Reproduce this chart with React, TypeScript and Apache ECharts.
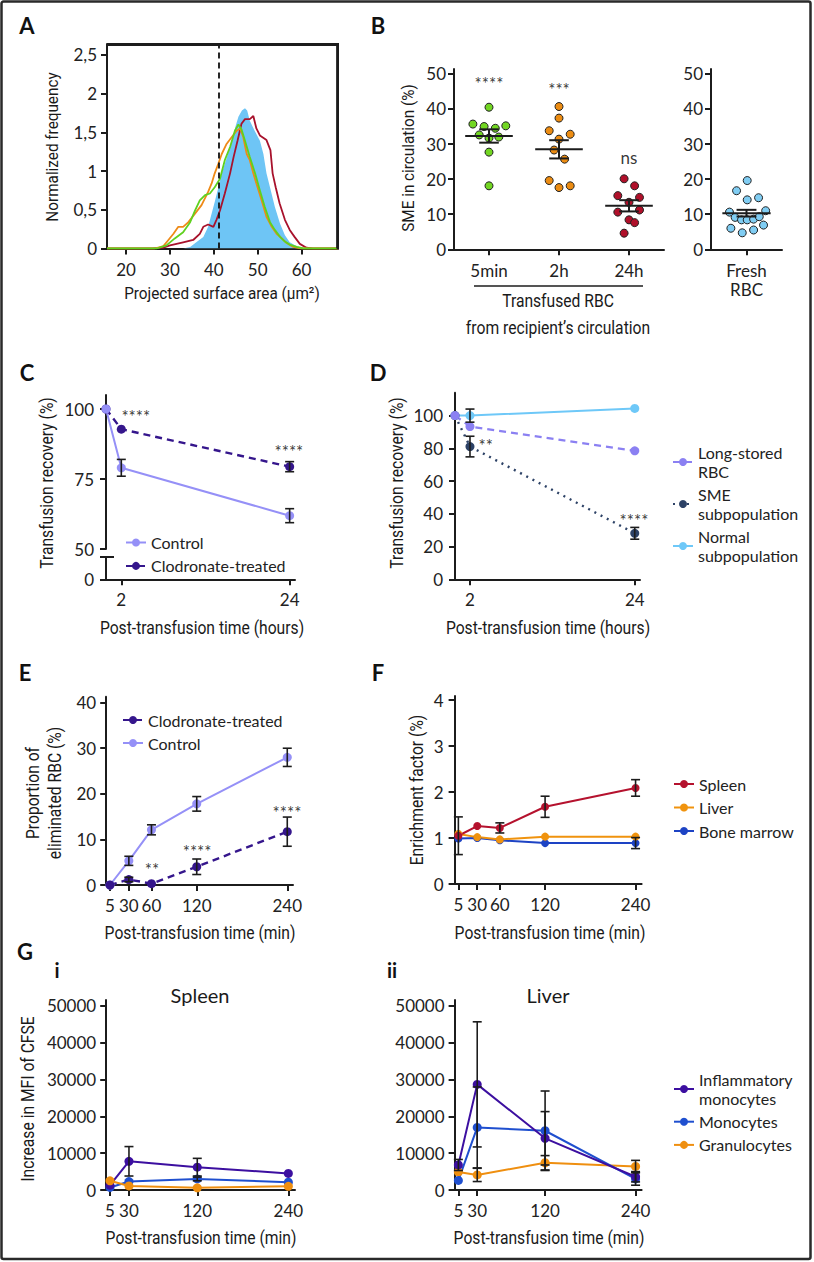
import React, { useEffect, useRef } from "react";
import * as echarts from "echarts";

const INK = "#1c1c1c";
const TICK_FONT = "Lato, 'Noto Sans', sans-serif";
const TITLE_FAMILY = "Roboto, 'Noto Sans', sans-serif";

// ---------- Panel A : histograms ----------
const A_X_MIN = 15.65;
const A_X_MAX = 68.3;
const A_Y_MAX = 2.64;
const A_X_TICKS = [20, 30, 40, 50, 60];
const A_Y_TICKS = [0, 0.5, 1, 1.5, 2, 2.5];
const A_THRESHOLD = 41.2;
const A_FRESH = [
  [15.65, 0], [33, 0], [34.6, 0.02], [36, 0.08], [37.6, 0.15], [38.7, 0.28], [40.2, 0.6], [41, 0.78],
  [41.8, 0.97], [43, 1.18], [44.1, 1.39], [44.9, 1.57], [45.6, 1.7], [46.4, 1.78], [47.1, 1.81],
  [47.6, 1.78], [48.2, 1.65], [49.3, 1.52], [50.5, 1.39], [51.3, 1.22], [52, 0.97], [52.8, 0.79],
  [53.9, 0.54], [55.1, 0.32], [56.2, 0.17], [57.3, 0.08], [58.9, 0.03], [60.5, 0], [68.3, 0],
];
const A_RED = [
  [15.65, 0], [26, 0], [28.5, 0.01], [30, 0.04], [33, 0.08], [35.3, 0.11], [36.8, 0.19], [37.6, 0.28],
  [38.7, 0.31], [39.9, 0.28], [40.6, 0.37], [41.4, 0.49], [42.5, 0.71], [43.7, 0.97], [44.5, 1.18],
  [45.4, 1.39], [46.3, 1.61], [47.1, 1.67], [48.2, 1.67], [49, 1.71], [49.7, 1.55], [50.5, 1.46],
  [52, 1.4], [52.9, 1.27], [53.4, 0.97], [54.1, 0.79], [55, 0.58], [56.2, 0.37], [57.3, 0.24],
  [58.4, 0.15], [59.6, 0.06], [61.1, 0.01], [62.6, 0], [68.3, 0],
];
const A_ORANGE = [
  [15.65, 0], [26.5, 0], [28.5, 0.03], [29.5, 0.1], [30.8, 0.19], [31.9, 0.28], [33, 0.28], [34.2, 0.34],
  [35.7, 0.45], [37.2, 0.56], [38.7, 0.73], [39.5, 0.84], [40.2, 0.97], [41, 1.09], [41.8, 1.22],
  [42.9, 1.35], [44.1, 1.44], [45.2, 1.52], [46, 1.55], [46.7, 1.44], [47.5, 1.22], [48.2, 1.14],
  [49, 0.97], [49.7, 0.84], [50.9, 0.62], [52, 0.41], [53.2, 0.28], [54.3, 0.19], [55.5, 0.13],
  [56.6, 0.07], [58.1, 0.02], [60, 0], [68.3, 0],
];
const A_GREEN = [
  [15.65, 0], [27, 0], [29.2, 0.04], [31.1, 0.13], [33, 0.21], [34.6, 0.34], [35.7, 0.49], [36.8, 0.62],
  [38, 0.69], [39.1, 0.71], [40.2, 0.79], [41.4, 0.9], [42.5, 1.14], [43.7, 1.31], [44.8, 1.52],
  [45.6, 1.6], [46.3, 1.54], [47.1, 1.39], [48.2, 1.18], [49.4, 0.97], [50.5, 0.75], [51.6, 0.54],
  [52.8, 0.34], [53.9, 0.24], [55.1, 0.15], [56.2, 0.09], [57.3, 0.05], [58.9, 0.02], [60.5, 0], [68.3, 0],
];

// ---------- Panel B : scatter ----------
const B_CATS = ["5min", "2h", "24h"];
const B_FRESH_CAT = ["Fresh\nRBC"];
const B_Y_TICKS = [0, 10, 20, 30, 40, 50];
const B_5MIN = [40.5, 35.7, 35.0, 34.5, 35.2, 32.6, 31.7, 32.0, 27.7, 18.1];
const B_5MIN_JIT = [0, -0.23, -0.07, 0.09, 0.24, -0.14, 0, 0.14, 0, 0];
const B_2H = [40.7, 37.4, 33.8, 32.8, 31.4, 28.3, 25.7, 19.6, 17.6, 18.1];
const B_2H_JIT = [0, 0, -0.14, 0.16, 0, -0.07, 0.08, -0.14, 0, 0.16];
const B_24H = [20.1, 18.1, 15.3, 14.8, 13.4, 10.6, 11.2, 8.4, 7.6, 4.6];
const B_24H_JIT = [-0.07, 0.08, -0.16, 0.15, 0, -0.16, 0.15, 0, 0.08, -0.07];
const B_FRESH = [19.6, 16.7, 14.7, 14.1, 10.6, 11.0, 9.1, 8.4, 8.4, 8.6, 9.3, 6.9, 6.0, 5.5, 4.7];
const B_FRESH_JIT = [0.01, -0.14, 0.17, 0.01, -0.24, 0.27, -0.16, -0.07, 0.01, 0.1, 0.18, 0.24, -0.22, 0.1, -0.06];
const B_MEANS = [32.3, 28.5, 12.4];
const B_SEMS = [1.9, 2.6, 1.6];
const B_FRESH_MEAN = [10.3];
const B_FRESH_SEM = [0.95];
const B_SIG_TEXT = ["****", "***", "ns"];
const B_SIG_Y = [47.2, 45.5, 26.3];

// ---------- Panel C ----------
const C_X = [0, 2, 24];
const C_X_TICKS = [2, 24];
const C_Y_TICKS = [50, 75, 100];
const C_CONTROL = [100, 79, 61.9];
const C_CONTROL_ERR = [0, 3, 2.5];
const C_CLOD = [100, 92.8, 79.4];
const C_CLOD_ERR = [0, 0, 1.8];
const C_SIG_X = [3.9, 23.9];
const C_SIG_Y = [97.3, 84.8];
const C_SIG_TEXT = ["****", "****"];

// ---------- Panel D ----------
const D_X = [0, 2, 24];
const D_X_TICKS = [2, 24];
const D_Y_TICKS = [0, 20, 40, 60, 80, 100];
const D_LONG = [100, 93.3, 78.5];
const D_SME = [100, 81.1, 28.1];
const D_SME_ERR = [0, 6.3, 3.6];
const D_NORMAL = [100, 100, 104.4];
const D_NORMAL_ERR = [0, 4, 0];
const D_SIG_X = [4.1, 23.9];
const D_SIG_Y = [81.8, 36];
const D_SIG_TEXT = ["**", "****"];

// ---------- Panel E ----------
const E_X = [5, 30, 60, 120, 240];
const E_Y_TICKS = [0, 10, 20, 30, 40];
const E_CONTROL = [0, 5.3, 12.1, 17.8, 28.0];
const E_CONTROL_ERR = [0, 1, 1.1, 1.6, 2];
const E_CLOD = [0, 1.2, 0.3, 4.0, 11.7];
const E_CLOD_ERR = [0, 0.5, 0, 1.7, 3.2];
const E_SIG_X = [60.7, 120.5, 239.6];
const E_SIG_Y = [3.3, 7.3, 15.8];
const E_SIG_TEXT = ["**", "****", "****"];

// ---------- Panel F ----------
const F_X = [5, 30, 60, 120, 240];
const F_Y_TICKS = [0, 1, 2, 3, 4];
const F_SPLEEN = [1.05, 1.26, 1.22, 1.68, 2.09];
const F_SPLEEN_ERR = [0.41, 0, 0.11, 0.23, 0.18];
const F_LIVER = [1.09, 1.02, 0.97, 1.03, 1.03];
const F_BM = [0.99, 1.0, 0.95, 0.89, 0.89];
const F_BM_ERR = [0, 0, 0, 0, 0.12];

// ---------- Panel G ----------
const G_X = [5, 30, 120, 240];
const G_Y_TICKS = [0, 10000, 20000, 30000, 40000, 50000];
const GI_INFL = [1300, 7800, 6200, 4500];
const GI_INFL_ERR = [0, 4000, 2400, 0];
const GI_MONO = [700, 2300, 3000, 2100];
const GI_MONO_ERR = [0, 0, 500, 0];
const GI_GRAN = [2500, 1100, 600, 1000];
const GII_INFL = [6800, 28700, 14050, 3600];
const GII_INFL_ERR = [1500, 17000, 7250, 1400];
const GII_MONO = [2600, 17000, 16100, 3000];
const GII_MONO_ERR = [0, 11000, 10800, 1700];
const GII_GRAN = [4900, 4100, 7400, 6400];
const GII_GRAN_ERR = [0, 1800, 1950, 1650];

const C_LIGHT = "#9590f7";
const C_DARK = "#35168c";
const LONG_COL = "#8b80f2";
const SME_COL = "#2d4266";
const NORMAL_COL = "#6ec8f8";
const SPLEEN_COL = "#b5122e";
const LIVER_COL = "#f0930e";
const BM_COL = "#1d43c4";
const INFL_COL = "#3c0fa0";
const MONO_COL = "#1f4fcf";
const GRAN_COL = "#ef8f10";

const LEGEND_LABELS: Record<string, string> = {
  "Long-stored RBC": "Long-stored\nRBC",
  "SME subpopulation": "SME\nsubpopulation",
  "Normal subpopulation": "Normal\nsubpopulation",
  "Inflammatory monocytes": "Inflammatory\nmonocytes",
};

function vAxis(gridIndex: number, min: number, max: number, ticks: number[], o: any = {}) {
  return {
    type: "value",
    gridIndex,
    min,
    max,
    axisLine: { show: true, onZero: false, lineStyle: { color: INK, width: 2 } },
    axisTick: { show: true, length: 6, customValues: ticks, lineStyle: { color: INK, width: 2 } },
    axisLabel: {
      show: true,
      customValues: o.labels ?? ticks,
      formatter: o.fmt,
      margin: o.margin ?? 10,
      color: "#222",
      fontSize: 17,
      fontFamily: TICK_FONT,
    },
    splitLine: { show: false },
  };
}

function catAxis(gridIndex: number, data: string[]) {
  return {
    type: "category",
    gridIndex,
    data,
    boundaryGap: true,
    axisLine: { show: true, onZero: false, lineStyle: { color: INK, width: 2 } },
    axisTick: { show: true, alignWithLabel: true, length: 6, lineStyle: { color: INK, width: 2 } },
    axisLabel: { margin: 12, color: "#222", fontSize: 17, fontFamily: TICK_FONT, lineHeight: 19, interval: 0 },
    splitLine: { show: false },
  };
}

function lineS(name: string | undefined, xi: number, yi: number, xs: number[], ys: number[], color: string, o: any = {}) {
  return {
    type: "line",
    name,
    xAxisIndex: xi,
    yAxisIndex: yi,
    data: xs.map((x, i) => [x, ys[i]]),
    symbol: "circle",
    symbolSize: o.size ?? 9,
    showSymbol: true,
    lineStyle: { color, width: o.width ?? 2, type: o.dash ?? "solid" },
    itemStyle: { color },
    z: 3,
    silent: true,
  };
}

function errS(xi: number, yi: number, xs: number[], ys: number[], es: number[], cap = 4.5) {
  const data: number[][] = [];
  xs.forEach((x, i) => {
    if (es[i] > 0) data.push([x, ys[i] - es[i], ys[i] + es[i]]);
  });
  return {
    type: "custom",
    xAxisIndex: xi,
    yAxisIndex: yi,
    silent: true,
    z: 4,
    encode: { x: 0, y: [1, 2] },
    data,
    renderItem: (_p: any, api: any) => {
      const x = api.value(0);
      const lo = api.coord([x, api.value(1)]);
      const hi = api.coord([x, api.value(2)]);
      const st = { stroke: INK, lineWidth: 1.6 };
      return {
        type: "group",
        children: [
          { type: "line", shape: { x1: lo[0], y1: lo[1], x2: hi[0], y2: hi[1] }, style: st },
          { type: "line", shape: { x1: lo[0] - cap, y1: lo[1], x2: lo[0] + cap, y2: lo[1] }, style: st },
          { type: "line", shape: { x1: hi[0] - cap, y1: hi[1], x2: hi[0] + cap, y2: hi[1] }, style: st },
        ],
      };
    },
  };
}

// top + right edges of panel A's plot box, placed through the axes' own scales
function frameS(xi: number, yi: number) {
  return {
    type: "custom",
    xAxisIndex: xi,
    yAxisIndex: yi,
    silent: true,
    clip: false,
    z: 10,
    encode: { x: 0, y: 1 },
    data: [[A_X_MAX, A_Y_MAX]],
    renderItem: (_p: any, api: any) => {
      const tl = api.coord([A_X_MIN, A_Y_MAX]);
      const tr = api.coord([A_X_MAX, A_Y_MAX]);
      const br = api.coord([A_X_MAX, 0]);
      const st = { stroke: INK, lineWidth: 2 };
      return {
        type: "group",
        children: [
          { type: "line", shape: { x1: tl[0], y1: tl[1], x2: tr[0] + 1, y2: tr[1] }, style: st },
          { type: "line", shape: { x1: tr[0], y1: tr[1], x2: br[0], y2: br[1] }, style: st },
        ],
      };
    },
  };
}

// same edges again, drawn as an error-bar-like vertical line just inside the clip area
function edgeS(xi: number, yi: number) {
  return {
    type: "custom",
    xAxisIndex: xi,
    yAxisIndex: yi,
    silent: true,
    z: 10,
    encode: { x: 0, y: [1, 2] },
    data: [[A_X_MAX - 0.2, 0, A_Y_MAX]],
    renderItem: (_p: any, api: any) => {
      const x = api.value(0);
      const lo = api.coord([x, api.value(1)]);
      const hi = api.coord([x, api.value(2)]);
      const st = { stroke: INK, lineWidth: 2 };
      return {
        type: "group",
        children: [
          { type: "line", shape: { x1: lo[0], y1: lo[1], x2: hi[0], y2: hi[1] }, style: st },
        ],
      };
    },
  };
}

function meanS(xi: number, yi: number, means: number[], sems: number[]) {
  return {
    type: "custom",
    xAxisIndex: xi,
    yAxisIndex: yi,
    silent: true,
    z: 5,
    encode: { x: 0, y: 1 },
    data: means.map((m, i) => [i, m, sems[i]]),
    renderItem: (_p: any, api: any) => {
      const x = api.value(0);
      const m = api.value(1);
      const s = api.value(2);
      const a = api.coord([x - 0.34, m]);
      const b = api.coord([x + 0.34, m]);
      const t = api.coord([x, m + s]);
      const d = api.coord([x, m - s]);
      const cap = api.size([0.14, 0])[0];
      const st = { stroke: INK, lineWidth: 2 };
      return {
        type: "group",
        children: [
          { type: "line", shape: { x1: a[0], y1: a[1], x2: b[0], y2: b[1] }, style: st },
          { type: "line", shape: { x1: t[0], y1: t[1], x2: d[0], y2: d[1] }, style: st },
          { type: "line", shape: { x1: t[0] - cap, y1: t[1], x2: t[0] + cap, y2: t[1] }, style: st },
          { type: "line", shape: { x1: d[0] - cap, y1: d[1], x2: d[0] + cap, y2: d[1] }, style: st },
        ],
      };
    },
  };
}

function dotS(xi: number, yi: number, center: number, vals: number[], jit: number[], color: string) {
  return {
    type: "scatter",
    xAxisIndex: xi,
    yAxisIndex: yi,
    silent: true,
    z: 3,
    symbolSize: 8,
    data: vals.map((v, i) => [center + jit[i], v]),
    itemStyle: { color, borderColor: "#222", borderWidth: 1, opacity: 1 },
  };
}

function sigS(xi: number, yi: number, xs: number[], ys: number[], texts: string[], size = 17) {
  return {
    type: "scatter",
    xAxisIndex: xi,
    yAxisIndex: yi,
    silent: true,
    z: 6,
    symbolSize: 1,
    itemStyle: { color: "rgba(0,0,0,0)" },
    data: xs.map((x, i) => ({ value: [x, ys[i]], label: { formatter: texts[i] } })),
    label: { show: true, position: "inside", color: "#000", fontSize: size, fontFamily: TICK_FONT },
  };
}

function title(text: string, x: number, y: number, o: any = {}) {
  return {
    type: "text",
    x,
    y,
    rotation: o.rot ? Math.PI / 2 : 0,
    scaleX: o.sx ?? 0.87,
    z: 50,
    style: {
      text,
      fill: "#1a1a1a",
      font: `${o.size ?? 18}px ${o.family ?? TITLE_FAMILY}`,
      textAlign: "center",
      textVerticalAlign: "middle",
      lineHeight: o.lh ?? 22,
    },
  };
}

function letter(text: string, x: number, y: number, size = 22) {
  return {
    type: "text",
    x,
    y,
    z: 50,
    style: { text, fill: "#111", font: `bold ${size}px Lato, 'Noto Sans', sans-serif`, textAlign: "center", textVerticalAlign: "middle" },
  };
}

function legendCfg(data: string[], left: number, top: number, gap: number) {
  return {
    data,
    left,
    top,
    orient: "vertical",
    itemWidth: 20,
    itemHeight: 10,
    itemGap: gap,
    selectedMode: false,
    formatter: (n: string) => LEGEND_LABELS[n] ?? n,
    textStyle: { fontSize: 16, fontFamily: TICK_FONT, color: "#222", lineHeight: 19 },
  };
}

const commaFmt = (v: number) => String(v).replace(".", ",");
const plainFmt = (v: number) => String(v);

function buildOption() {
  const gridBase = { outerBoundsMode: "none", containLabel: false };
  const grid = [
    { ...gridBase, left: 107, top: 44, width: 231, height: 204.5 },
    { ...gridBase, left: 454, top: 69, width: 210, height: 180.3 },
    { ...gridBase, left: 711, top: 69, width: 71, height: 180.3 },
    { ...gridBase, left: 106, top: 395, width: 189, height: 154 },
    { ...gridBase, left: 106, top: 557, width: 189, height: 22.3 },
    { ...gridBase, left: 455, top: 392.7, width: 185, height: 186.6 },
    { ...gridBase, left: 106.2, top: 696.7, width: 186.8, height: 188.3 },
    { ...gridBase, left: 454.6, top: 696, width: 187, height: 188 },
    { ...gridBase, left: 106.2, top: 1000, width: 188.8, height: 190 },
    { ...gridBase, left: 454.6, top: 1000, width: 187, height: 190 },
  ];

  const xAxis = [
    vAxis(0, A_X_MIN, A_X_MAX, A_X_TICKS, { margin: 12 }),
    catAxis(1, B_CATS),
    { type: "value", gridIndex: 1, min: -0.5, max: 2.5, show: false },
    catAxis(2, B_FRESH_CAT),
    { type: "value", gridIndex: 2, min: -0.5, max: 0.5, show: false },
    { type: "value", gridIndex: 3, min: 0, max: 24.7, show: false },
    vAxis(4, 0, 24.7, C_X_TICKS, { margin: 12 }),
    vAxis(5, 0, 24.7, D_X_TICKS, { margin: 12 }),
    vAxis(6, 0, 247.6, E_X, { margin: 12 }),
    vAxis(7, 0, 248, F_X, { margin: 12 }),
    vAxis(8, 0, 248.8, G_X, { margin: 12 }),
    vAxis(9, 0, 248, G_X, { margin: 12 }),
  ];

  const yAxis = [
    vAxis(0, 0, A_Y_MAX, A_Y_TICKS, { fmt: commaFmt }),
    vAxis(1, 0, 51.4, B_Y_TICKS, { margin: 8 }),
    vAxis(2, 0, 51.4, B_Y_TICKS, { margin: 8 }),
    vAxis(3, 50, 105, C_Y_TICKS, { margin: 12 }),
    vAxis(4, 0, 8, [0, 8], { labels: [0], margin: 12 }),
    vAxis(5, 0, 114, D_Y_TICKS, { margin: 12 }),
    vAxis(6, 0, 41.3, E_Y_TICKS),
    vAxis(7, 0, 4.09, F_Y_TICKS, { margin: 11 }),
    vAxis(8, 0, 51630, G_Y_TICKS, { fmt: plainFmt }),
    vAxis(9, 0, 51630, G_Y_TICKS, { fmt: plainFmt }),
  ];

  const series: any[] = [
    // A
    {
      type: "line", xAxisIndex: 0, yAxisIndex: 0, data: A_FRESH, symbol: "none", silent: true, z: 1,
      lineStyle: { width: 0 }, areaStyle: { color: "#6ec5f5", opacity: 1 },
    },
    { type: "line", xAxisIndex: 0, yAxisIndex: 0, data: A_RED, symbol: "none", silent: true, z: 2, lineStyle: { color: "#a8122c", width: 1.8 } },
    { type: "line", xAxisIndex: 0, yAxisIndex: 0, data: A_ORANGE, symbol: "none", silent: true, z: 2, lineStyle: { color: "#ee8a17", width: 1.8 } },
    {
      type: "line", xAxisIndex: 0, yAxisIndex: 0, data: A_GREEN, symbol: "none", silent: true, z: 2,
      lineStyle: { color: "#5fd11f", width: 1.8 },
      markLine: {
        silent: true, symbol: ["none", "none"], label: { show: false },
        lineStyle: { color: "#111", width: 1.8, type: [6, 4] },
        data: [{ xAxis: A_THRESHOLD }],
      },
    },
    frameS(0, 0),
    edgeS(0, 0),
    // B
    dotS(2, 1, 0, B_5MIN, B_5MIN_JIT, "#72d622"),
    dotS(2, 1, 1, B_2H, B_2H_JIT, "#ec8c12"),
    dotS(2, 1, 2, B_24H, B_24H_JIT, "#b0102a"),
    dotS(4, 2, 0, B_FRESH, B_FRESH_JIT, "#80cdf3"),
    meanS(2, 1, B_MEANS, B_SEMS),
    meanS(4, 2, B_FRESH_MEAN, B_FRESH_SEM),
    sigS(2, 1, [0, 1, 2], B_SIG_Y, B_SIG_TEXT),
    // C
    lineS("Clodronate-treated", 5, 3, C_X, C_CLOD, C_DARK, { dash: [7, 5], width: 2.4 }),
    lineS("Control", 5, 3, C_X, C_CONTROL, C_LIGHT),
    errS(5, 3, C_X, C_CONTROL, C_CONTROL_ERR),
    errS(5, 3, C_X, C_CLOD, C_CLOD_ERR),
    sigS(5, 3, C_SIG_X, C_SIG_Y, C_SIG_TEXT),
    // D
    lineS("Normal subpopulation", 7, 5, D_X, D_NORMAL, NORMAL_COL),
    lineS("SME subpopulation", 7, 5, D_X, D_SME, SME_COL, { dash: [2, 5], width: 2.4 }),
    lineS("Long-stored RBC", 7, 5, D_X, D_LONG, LONG_COL, { dash: [7, 5], width: 2.2 }),
    errS(7, 5, D_X, D_SME, D_SME_ERR),
    errS(7, 5, D_X, D_NORMAL, D_NORMAL_ERR),
    sigS(7, 5, D_SIG_X, D_SIG_Y, D_SIG_TEXT),
    // E
    lineS("Control", 8, 6, E_X, E_CONTROL, C_LIGHT),
    lineS("Clodronate-treated", 8, 6, E_X, E_CLOD, C_DARK, { dash: [7, 5], width: 2.4 }),
    errS(8, 6, E_X, E_CONTROL, E_CONTROL_ERR),
    errS(8, 6, E_X, E_CLOD, E_CLOD_ERR),
    sigS(8, 6, E_SIG_X, E_SIG_Y, E_SIG_TEXT),
    // F
    lineS("Bone marrow", 9, 7, F_X, F_BM, BM_COL, { size: 8 }),
    lineS("Liver", 9, 7, F_X, F_LIVER, LIVER_COL, { size: 8 }),
    lineS("Spleen", 9, 7, F_X, F_SPLEEN, SPLEEN_COL, { size: 8 }),
    errS(9, 7, F_X, F_SPLEEN, F_SPLEEN_ERR),
    errS(9, 7, F_X, F_BM, F_BM_ERR),
    // G i
    lineS("Monocytes", 10, 8, G_X, GI_MONO, MONO_COL),
    lineS("Inflammatory monocytes", 10, 8, G_X, GI_INFL, INFL_COL),
    lineS("Granulocytes", 10, 8, G_X, GI_GRAN, GRAN_COL),
    errS(10, 8, G_X, GI_INFL, GI_INFL_ERR),
    errS(10, 8, G_X, GI_MONO, GI_MONO_ERR),
    // G ii
    lineS("Granulocytes", 11, 9, G_X, GII_GRAN, GRAN_COL),
    lineS("Monocytes", 11, 9, G_X, GII_MONO, MONO_COL),
    lineS("Inflammatory monocytes", 11, 9, G_X, GII_INFL, INFL_COL),
    errS(11, 9, G_X, GII_INFL, GII_INFL_ERR),
    errS(11, 9, G_X, GII_MONO, GII_MONO_ERR),
    errS(11, 9, G_X, GII_GRAN, GII_GRAN_ERR),
  ];

  const legend = [
    legendCfg(["Control", "Clodronate-treated"], 120, 528, 4.4),
    legendCfg(["Long-stored RBC", "SME subpopulation", "Normal subpopulation"], 667, 438, 4),
    legendCfg(["Clodronate-treated", "Control"], 117, 705.5, 4),
    legendCfg(["Spleen", "Liver", "Bone marrow"], 668, 769.5, 4.5),
    legendCfg(["Inflammatory monocytes", "Monocytes", "Granulocytes"], 668, 1065, 4.2),
  ];

  const graphic = [
    { type: "rect", z: 60, shape: { x: 1.5, y: 1.5, width: 809, height: 1257.5, r: 2 }, style: { fill: "none", stroke: "#2a2a2a", lineWidth: 2.5 } },
    { type: "line", z: 100, shape: { x1: 107, y1: 45, x2: 339, y2: 45 }, style: { stroke: INK, lineWidth: 2 } },
    { type: "line", z: 100, shape: { x1: 338, y1: 44, x2: 338, y2: 249 }, style: { stroke: INK, lineWidth: 2 } },
    letter("A", 27, 25), letter("B", 378, 25), letter("C", 27, 372), letter("D", 378, 372),
    letter("E", 25, 672), letter("F", 378, 672), letter("G", 25, 951),
    letter("i", 57, 970, 20), letter("ii", 392, 970, 20),
    title("Projected surface area (μm²)", 222, 293, { size: 17, sx: 0.9 }),
    title("Normalized frequency", 52, 147, { rot: true, size: 17, sx: 0.9 }),
    title("SME in circulation (%)", 408, 158, { rot: true, size: 17, sx: 0.9 }),
    { type: "line", z: 50, shape: { x1: 474, y1: 286, x2: 643, y2: 286 }, style: { stroke: INK, lineWidth: 1.6 } },
    title("Transfused RBC", 558, 301),
    title("from recipient’s circulation", 558, 328),
    title("Transfusion recovery (%)", 47, 483, { rot: true }),
    title("Post-transfusion time (hours)", 202, 628),
    { type: "line", z: 50, shape: { x1: 106, y1: 557, x2: 114, y2: 557 }, style: { stroke: INK, lineWidth: 2 } },
    title("Transfusion recovery (%)", 397, 483, { rot: true }),
    title("Post-transfusion time (hours)", 548, 628),
    title("Proportion of\neliminated RBC (%)", 44, 793, { rot: true }),
    title("Post-transfusion time (min)", 200, 933),
    title("Enrichment factor (%)", 417, 790, { rot: true }),
    title("Post-transfusion time (min)", 550, 933),
    title("Increase in MFI of CFSE", 28, 1099, { rot: true }),
    title("Post-transfusion time (min)", 201, 1238),
    title("Post-transfusion time (min)", 549, 1238),
    title("Spleen", 200, 995, { size: 20, sx: 1, family: TICK_FONT }),
    title("Liver", 548, 995, { size: 20, sx: 1, family: TICK_FONT }),
  ];

  return {
    animation: false,
    backgroundColor: "#ffffff",
    grid,
    xAxis,
    yAxis,
    series,
    legend,
    graphic,
  };
}

export default function App() {
  const ref = useRef<HTMLDivElement>(null);
  useEffect(() => {
    if (!ref.current) return;
    const chart = echarts.init(ref.current, null, { renderer: "svg" });
    chart.setOption(buildOption() as any);
    return () => chart.dispose();
  }, []);
  return (
    <div
      ref={ref}
      style={{ position: "absolute", left: 0, top: 0, width: 814, height: 1262, background: "#fff" }}
    />
  );
}
